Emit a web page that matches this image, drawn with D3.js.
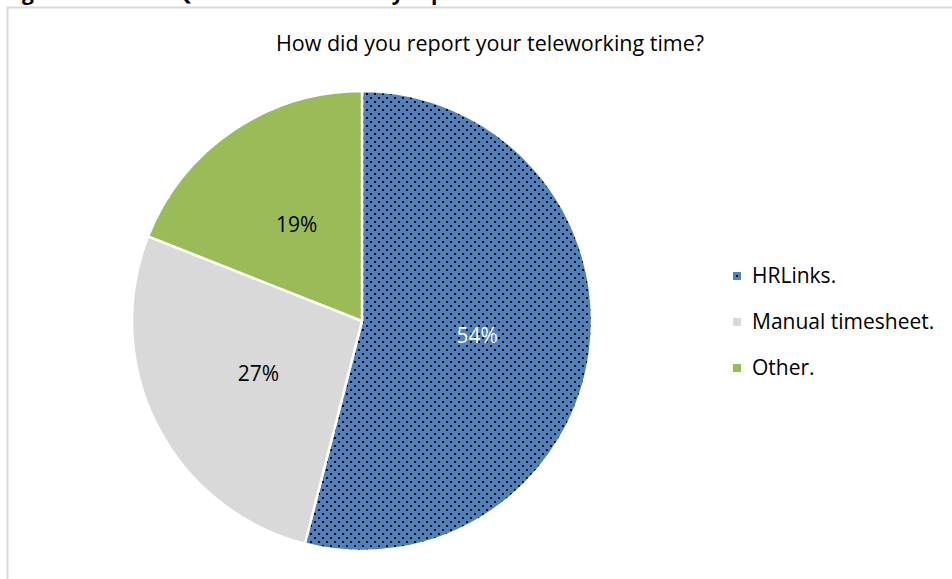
<!DOCTYPE html>
<html lang="en">
<head>
<meta charset="utf-8">
<title>How did you report your teleworking time?</title>
<script src="https://d3js.org/d3.v7.min.js"></script>
<style>
  html, body { margin: 0; padding: 0; background: #fff; }
  svg { display: block; font-family: "Open Sans", Lato, sans-serif; }
  .title { font-size: 21.5px; fill: #000; }
  .fig { font-size: 21px; font-weight: bold; fill: #000; }
  .pct { font-size: 21px; }
  .legend text { font-size: 21px; fill: #000; }
</style>
</head>
<body>
<div id="chart"></div>
<script>
var categories = ["HRLinks.", "Manual timesheet.", "Other."];
var values = [54, 27, 19];
var colors = ["#4f81bd", "#d9d9d9", "#9bbb59"];
var labelColors = ["#fff", "#000", "#000"];

var width = 952, height = 579;
var cx = 362, cy = 321, radius = 230;

var svg = d3.select("#chart").append("svg")
    .attr("width", width)
    .attr("height", height);

// dotted fill used by the first slice
var defs = svg.append("defs");
var pat = defs.append("pattern")
    .attr("id", "dots")
    .attr("patternUnits", "userSpaceOnUse")
    .attr("width", 8).attr("height", 8);
pat.append("rect").attr("width", 8).attr("height", 8).attr("fill", colors[0]);
pat.append("rect").attr("x", 0).attr("y", 0).attr("width", 2).attr("height", 2).attr("fill", "#000");
pat.append("rect").attr("x", 4).attr("y", 4).attr("width", 2).attr("height", 2).attr("fill", "#000");

function fillFor(i) { return i === 0 ? "url(#dots)" : colors[i]; }

// caption of the figure, mostly above the top of the page
svg.append("text")
    .attr("class", "fig")
    .attr("x", 4).attr("y", 0)
    .text("Figure 10 \u2013 Staff Question 8 \u2013 Hours by report method");

// chart area border
svg.append("rect")
    .attr("x", 7.5).attr("y", 7.5)
    .attr("width", width).attr("height", height)
    .attr("fill", "#fff")
    .attr("stroke", "#d9d9d9")
    .attr("stroke-width", 2);

svg.append("text")
    .attr("class", "title")
    .attr("x", 490).attr("y", 51)
    .attr("text-anchor", "middle")
    .text("How did you report your teleworking time?");

var data = categories.map(function(c, i) { return {name: c, value: values[i], i: i}; });

var pie = d3.pie().sort(null).value(function(d) { return d.value; });
var arc = d3.arc().innerRadius(0).outerRadius(radius);
var labelArc = d3.arc().innerRadius(radius * 0.505).outerRadius(radius * 0.505);

var g = svg.append("g").attr("transform", "translate(" + cx + "," + cy + ")");

var arcs = pie(data);

g.selectAll("path")
    .data(arcs)
  .enter().append("path")
    .attr("d", arc)
    .attr("fill", function(d) { return fillFor(d.data.i); })
    .attr("stroke", "#fff")
    .attr("stroke-width", 2.5)
    .attr("stroke-linejoin", "round");

g.selectAll("text.pct")
    .data(arcs)
  .enter().append("text")
    .attr("class", "pct")
    .attr("transform", function(d) { return "translate(" + labelArc.centroid(d) + ")"; })
    .attr("text-anchor", "middle")
    .attr("dy", "0.35em")
    .attr("fill", function(d) { return labelColors[d.data.i]; })
    .text(function(d) { return d.data.value + "%"; });

// legend
var legend = svg.append("g").attr("class", "legend")
    .attr("transform", "translate(733,276)");

var item = legend.selectAll("g")
    .data(data)
  .enter().append("g")
    .attr("transform", function(d, i) { return "translate(0," + (i * 46) + ")"; });

item.append("rect")
    .attr("x", 0).attr("y", -4)
    .attr("width", 8).attr("height", 8)
    .attr("fill", function(d) { return colors[d.i]; });

item.filter(function(d) { return d.i === 0; }).append("rect")
    .attr("x", 3).attr("y", -1)
    .attr("width", 2).attr("height", 2)
    .attr("fill", "#000");

item.append("text")
    .attr("x", 19)
    .attr("dy", "0.35em")
    .text(function(d) { return d.name; });
</script>
</body>
</html>
